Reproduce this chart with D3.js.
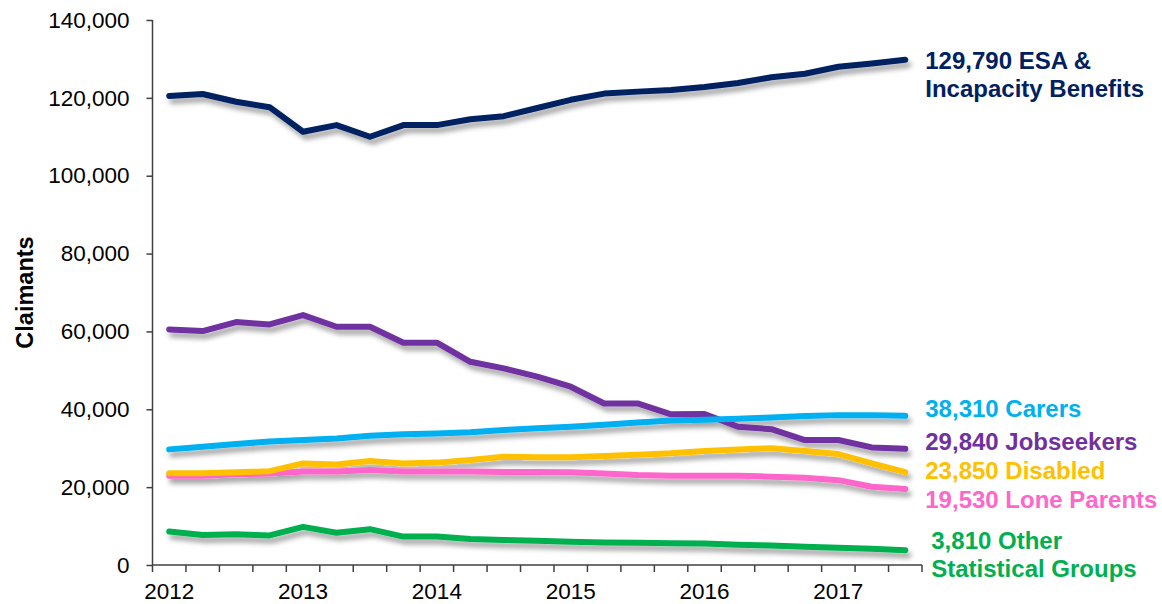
<!DOCTYPE html>
<html>
<head>
<meta charset="utf-8">
<script src="https://cdn.jsdelivr.net/npm/d3@7"></script>
<style>
  html, body { margin: 0; padding: 0; background: #fff; }
  svg { display: block; font-family: "Liberation Sans", Arial, sans-serif; }
</style>
</head>
<body>
<svg id="chart" width="1162" height="604"></svg>
<script>
// quarterly claimant counts, 2012 Q1 .. 2017 Q3
const quarters = d3.range(23).map(i => `${2012 + Math.floor(i / 4)} Q${i % 4 + 1}`);
const yearTicks = ["2012", "2013", "2014", "2015", "2016", "2017"];
const yTicks = [0, 20000, 40000, 60000, 80000, 100000, 120000, 140000];

const esa = [120500, 121000, 119000, 117600, 111300, 113000, 110000, 113000, 113000, 114500, 115300, 117400,
             119500, 121100, 121600, 122000, 122800, 123800, 125300, 126200, 128000, 128800, 129790];
const jobseekers = [60500, 60100, 62400, 61800, 64200, 61200, 61200, 57100, 57100, 52200, 50500, 48400,
                    45800, 41500, 41500, 38700, 38800, 35500, 34900, 32100, 32100, 30200, 29840];
const carers = [29700, 30400, 31100, 31700, 32100, 32500, 33200, 33600, 33800, 34100, 34700, 35100,
                35500, 36000, 36600, 37100, 37300, 37600, 37900, 38300, 38500, 38500, 38310];
const disabled = [23550, 23550, 23800, 24100, 26100, 25800, 26700, 26100, 26300, 27000, 27800, 27700,
                  27700, 28000, 28300, 28700, 29300, 29700, 30000, 29300, 28500, 26100, 23850];
const loneParents = [22900, 22900, 23300, 23500, 24000, 24000, 24400, 24000, 24000, 24000, 23900, 23900,
                     23800, 23500, 23100, 22900, 22900, 22900, 22700, 22400, 21800, 20100, 19530];
const other = [8600, 7700, 7900, 7600, 9800, 8300, 9200, 7300, 7300, 6700, 6400, 6200,
               6000, 5800, 5700, 5600, 5500, 5200, 5000, 4700, 4400, 4200, 3810];

// drawn bottom to top
const series = [
  { name: "other", values: other, color: "#00b050", label: ["3,810 Other", "Statistical Groups"] },
  { name: "lone", values: loneParents, color: "#ff66cc", label: ["19,530 Lone Parents"] },
  { name: "disabled", values: disabled, color: "#ffc000", label: ["23,850 Disabled"] },
  { name: "jobseekers", values: jobseekers, color: "#7030a0", label: ["29,840 Jobseekers"] },
  { name: "carers", values: carers, color: "#00b0f0", label: ["38,310 Carers"] },
  { name: "esa", values: esa, color: "#002060", label: ["129,790 ESA &", "Incapacity Benefits"] }
];

// label nudges (px) relative to the series' last point
const labelPos = {
  esa: { dx: 20, dy: 9 },
  carers: { dx: 20, dy: 1 },
  jobseekers: { dx: 20, dy: 1 },
  disabled: { dx: 20, dy: 7 },
  lone: { dx: 20, dy: 19 },
  other: { dx: 26, dy: -1 }
};

const margin = { top: 20, right: 240, bottom: 39, left: 152.5 };
const width = 1162, height = 604;
const svg = d3.select("#chart");

const x = d3.scaleBand().domain(quarters).range([margin.left, width - margin.right]).paddingInner(0);
const y = d3.scaleLinear().domain([0, 140000]).range([height - margin.bottom, margin.top]);
const cx = q => x(q) + x.bandwidth() / 2;

const defs = svg.append("defs");
const f = defs.append("filter").attr("id", "shadow")
  .attr("x", "-5%").attr("y", "-20%").attr("width", "115%").attr("height", "160%");
f.append("feDropShadow")
  .attr("dx", 3).attr("dy", 5).attr("stdDeviation", 2.5)
  .attr("flood-color", "#000").attr("flood-opacity", 0.35);

// y axis
const yAxis = d3.axisLeft(y).tickValues(yTicks).tickSize(6).tickPadding(17)
  .tickFormat(d3.format(","));
svg.append("g")
  .attr("transform", `translate(${margin.left},0)`)
  .call(yAxis)
  .call(g => g.select(".domain").attr("stroke", "#404040").attr("stroke-width", 1.5).attr("d",
    `M0,${y(0)}V${y(140000)}`))
  .call(g => g.selectAll(".tick line").attr("stroke", "#404040").attr("stroke-width", 1.5))
  .call(g => g.selectAll(".tick text").attr("font-size", 22.5).attr("fill", "#000")
    .attr("font-family", "Liberation Sans, Arial, sans-serif"));

// x axis: tick marks at quarter boundaries, year labels under Q1
const xg = svg.append("g").attr("transform", `translate(0,${y(0)})`);
xg.append("line")
  .attr("x1", margin.left).attr("x2", width - margin.right)
  .attr("stroke", "#404040").attr("stroke-width", 1.5);
const bounds = quarters.map(q => x(q)).concat([x(quarters[quarters.length - 1]) + x.bandwidth()]);
xg.selectAll("line.qt").data(bounds).join("line")
  .attr("class", "qt")
  .attr("x1", d => d).attr("x2", d => d)
  .attr("y1", 0).attr("y2", 7)
  .attr("stroke", "#404040").attr("stroke-width", 1.5);
xg.selectAll("text.yr").data(yearTicks).join("text")
  .attr("class", "yr")
  .attr("x", (d, i) => cx(quarters[i * 4]))
  .attr("y", 34)
  .attr("text-anchor", "middle")
  .attr("font-size", 22.5)
  .text(d => d);

// axis title
svg.append("text")
  .attr("transform", `translate(33,${(y(0) + y(140000)) / 2}) rotate(-90)`)
  .attr("text-anchor", "middle")
  .attr("font-size", 23.5)
  .attr("font-weight", "bold")
  .text("Claimants");

// lines
const line = d3.line().x((d, i) => cx(quarters[i])).y(d => y(d));
svg.append("g").attr("filter", "url(#shadow)")
  .selectAll("path").data(series).join("path")
  .attr("d", d => line(d.values))
  .attr("fill", "none")
  .attr("stroke", d => d.color)
  .attr("stroke-width", 6)
  .attr("stroke-linejoin", "round")
  .attr("stroke-linecap", "round");

// end labels
const lastX = cx(quarters[quarters.length - 1]);
series.forEach(s => {
  const p = labelPos[s.name];
  const t = svg.append("text")
    .attr("x", lastX + p.dx)
    .attr("y", y(s.values[s.values.length - 1]) + p.dy)
    .attr("font-size", 24)
    .attr("font-weight", "bold")
    .attr("fill", s.color);
  s.label.forEach((l, i) => {
    t.append("tspan").attr("x", lastX + p.dx).attr("dy", i === 0 ? 0 : 28).text(l);
  });
});
</script>
</body>
</html>
